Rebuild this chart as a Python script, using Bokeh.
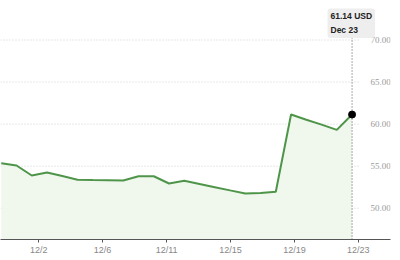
from bokeh.plotting import figure
from bokeh.models import Range1d, FixedTicker, Label, LabelSet, ColumnDataSource
from bokeh.core.properties import value
from bokeh.embed import file_html
from bokeh.resources import INLINE

# ---- data ----
day_index = list(range(24))
prices = [55.35, 55.08, 53.89, 54.24, 53.82, 53.38, 53.35, 53.33, 53.30, 53.80,
          53.80, 52.94, 53.26, 52.88, 52.50, 52.12, 51.75, 51.80, 51.95, 61.15,
          60.52, 59.94, 59.32, 61.14]
tick_positions = [2.46, 6.64, 10.84, 15.03, 19.23, 23.41]
tick_labels = ["12/2", "12/6", "12/11", "12/15", "12/19", "12/23"]
y_levels = [50, 55, 60, 65, 70]
y_level_labels = ["50.00", "55.00", "60.00", "65.00", "70.00"]
last_label = "61.14 USD\nDec 23"

FONT = "Liberation Sans"
Y0, Y1 = 46.28, 74.70
X0, X1 = -0.05, 25.52

p = figure(width=400, height=260, output_backend="svg", toolbar_location=None,
           x_range=Range1d(X0, X1), y_range=Range1d(Y0, Y1),
           y_axis_location=None, min_border_left=0, min_border_right=10,
           min_border_top=0, min_border_bottom=21)
p.outline_line_color = None
p.background_fill_color = "white"
p.border_fill_color = "white"
p.xgrid.visible = False
p.ygrid.visible = False

# grid lines (dotted), stopping before labels
grid_end = 23.43
p.segment(x0=[X0] * len(y_levels), y0=y_levels, x1=[grid_end] * len(y_levels), y1=y_levels,
          line_color="#cfcfcf", line_width=1, line_dash="1 2")
# y labels on the right
ysrc = ColumnDataSource(dict(x=[24.21] * len(y_levels), y=y_levels, t=y_level_labels))
p.add_layout(LabelSet(x="x", y="y", text="t", source=ysrc,
                      text_font=FONT, text_font_size="9px", text_color="#9a9a9a",
                      text_align="left", text_baseline="middle"))

# area + line
p.varea(x=day_index, y1=[Y0] * len(day_index), y2=prices, fill_color="#eef7ec", fill_alpha=0.9)
p.line(day_index, prices, line_color="#4e9549", line_width=2)

# vertical marker line
p.segment(x0=[day_index[-1]], y0=[Y0], x1=[day_index[-1]], y1=[70.77],
          line_color="#555555", line_width=1, line_dash="1 2")
p.scatter([day_index[-1]], [prices[-1]], size=7, color="black")

# tooltip label
lab = Label(x=21.39, y=73.75, text=last_label, text_font=FONT, text_font_size="8.5px",
            text_font_style="bold", text_color="#222222", text_baseline="top",
            text_align="left", text_line_height=1.35,
            background_fill_color="#eeeeee", padding=3, border_radius=3)
p.add_layout(lab)

# x axis
ax = p.xaxis[0]
ax.ticker = FixedTicker(ticks=tick_positions)
ax.major_label_overrides = {t: l for t, l in zip(tick_positions, tick_labels)}
ax.axis_line_color = "#555555"
ax.major_tick_line_color = "#555555"
ax.major_tick_out = 3
ax.major_tick_in = 0
ax.minor_tick_line_color = None
ax.major_label_text_font = FONT
ax.major_label_text_font_size = "9px"
ax.major_label_text_color = "#888888"
ax.major_label_standoff = 2

open("out.html", "w").write(file_html(p, INLINE))
